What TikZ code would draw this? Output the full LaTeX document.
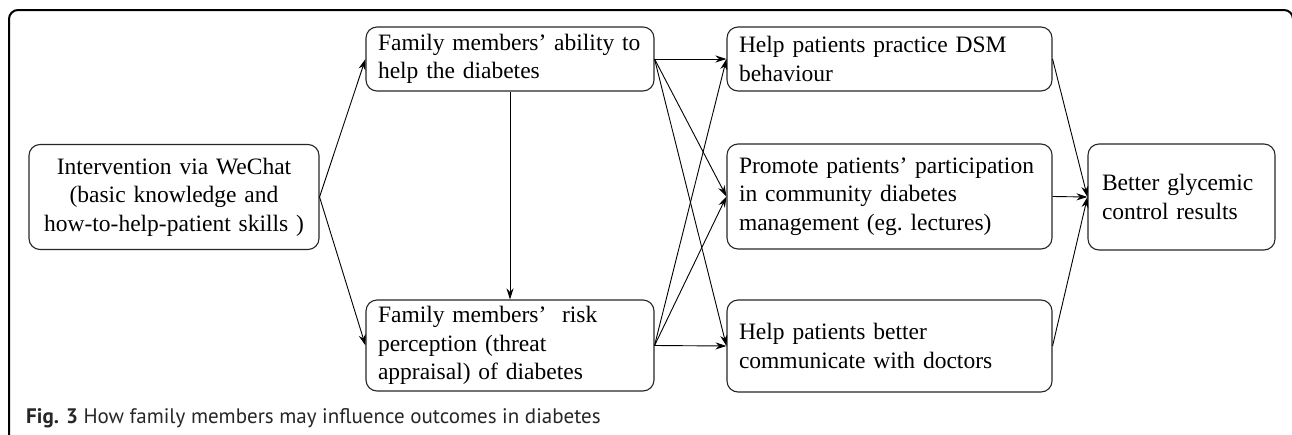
\documentclass[tikz,border=0pt]{standalone}
\usepackage{fontspec}
\setmainfont{Liberation Serif}
\newfontfamily\capfont{PT Sans}
\usetikzlibrary{arrows.meta}
\tikzset{
  box/.style={draw=black!85, line width=1.1pt, rounded corners=11pt, inner xsep=12pt, inner ysep=0pt,
    font=\fontsize{23.5}{28.5}\selectfont, align=left},
  conn/.style={line width=0.9pt, -{Stealth[length=11pt,width=7pt]}},
  frame/.style={line width=2pt, rounded corners=9pt}
}
\begin{document}
\begin{tikzpicture}[x=1pt,y=-1pt]
\useasboundingbox (0,0) rectangle (1292,434);
\draw[frame] (9,440) -- (9,10) -- (1293,10) -- (1293,440);
\node[box, align=center, minimum width=290pt, minimum height=105pt, text width=266pt] (interv) at (174,197)
  {Intervention via WeChat\\(basic knowledge and\\how-to-help-patient skills )};
\node[box, minimum width=288pt, minimum height=64pt, text width=264pt] (abil) at (510,59)
  {Family members’ ability to\\help the diabetes};
\node[box, minimum width=288pt, minimum height=91pt, text width=264pt] (risk) at (510,345.5)
  {Family members’~ risk\\perception (threat\\appraisal) of diabetes};
\node[box, minimum width=325pt, minimum height=64pt, text width=301pt] (dsm) at (889.5,59)
  {Help patients practice DSM\\behaviour};
\node[box, minimum width=325pt, minimum height=105pt, text width=301pt] (prom) at (889.5,196.5)
  {Promote patients’ participation\\in community diabetes\\management (eg.\ lectures)};
\node[box, minimum width=325pt, minimum height=92pt, text width=301pt] (comm) at (889.5,346)
  {Help patients better\\communicate with doctors};
\node[box, inner xsep=14pt, minimum width=187pt, minimum height=106pt, text width=159pt] (better) at (1181.5,197)
  {Better glycemic\\control results};
\draw[conn] (interv.east) -- (abil.west);
\draw[conn] (interv.east) -- (risk.west);
\draw[conn] (abil.south) -- (risk.north);
\draw[conn] (abil.east) -- (dsm.west);
\draw[conn] (abil.east) -- (prom.west);
\draw[conn] (abil.east) -- (comm.west);
\draw[conn] (risk.east) -- (dsm.west);
\draw[conn] (risk.east) -- (prom.west);
\draw[conn] (risk.east) -- (comm.west);
\draw[conn] (dsm.east) -- (better.west);
\draw[conn] (prom.east) -- (better.west);
\draw[conn] (comm.east) -- (better.west);
\node[anchor=west, inner sep=0pt, text=black!85] (cap) at (26,418)
  {\capfont\fontsize{21}{24}\selectfont\textbf{Fig. 3} How family members may influence outcomes in diabetes};
\end{tikzpicture}
\end{document}
